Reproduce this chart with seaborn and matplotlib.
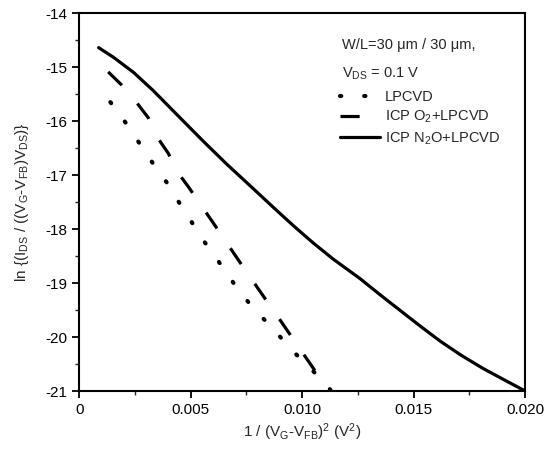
import numpy as np
import pandas as pd
import matplotlib
matplotlib.use('Agg')
import matplotlib.pyplot as plt
import seaborn as sns
from matplotlib.ticker import MultipleLocator, FuncFormatter

# data (x = 1/(VG-VFB)^2, y = ln(...))
lp_x = [0.0014, 0.0021, 0.0027, 0.0033, 0.0040, 0.0046, 0.0058, 0.0065, 0.0071,
        0.0078, 0.0087, 0.0094, 0.0102, 0.0110, 0.0113]
lp_y = [-15.65, -16.04, -16.41, -16.78, -17.18, -17.59, -18.35, -18.74, -19.11,
        -19.46, -19.85, -20.18, -20.52, -20.83, -21.0]

o2_x = [0.0013, 0.0019, 0.0026, 0.0031, 0.0035, 0.0040, 0.0044, 0.0049, 0.0060,
        0.0070, 0.0080, 0.0090, 0.0100, 0.0112]
o2_y = [-15.09, -15.33, -15.67, -15.94, -16.30, -16.60, -16.94, -17.22, -17.88,
        -18.49, -19.09, -19.68, -20.28, -21.0]

n2o_x = [0.00087, 0.00154, 0.00244, 0.00333, 0.00438, 0.00558, 0.00662, 0.00767,
         0.00871, 0.00961, 0.0105, 0.0114, 0.0126, 0.0135, 0.0144, 0.0153,
         0.0162, 0.0171, 0.0181, 0.0190, 0.0200]
n2o_y = [-14.64, -14.82, -15.10, -15.44, -15.88, -16.38, -16.80, -17.20,
         -17.60, -17.94, -18.26, -18.56, -18.92, -19.22, -19.51, -19.80,
         -20.08, -20.33, -20.58, -20.78, -21.0]

labels = ['LPCVD', 'ICP O$_2$+LPCVD', 'ICP N$_2$O+LPCVD']

sns.set_style('ticks')
plt.rcParams['font.family'] = ['Liberation Sans', 'DejaVu Sans']
plt.rcParams['mathtext.default'] = 'regular'
plt.rcParams['xtick.direction'] = 'out'
plt.rcParams['ytick.direction'] = 'out'

fig = plt.figure(figsize=(5.46, 4.5), dpi=100)
ax = fig.add_axes([0.145, 0.131, 0.817, 0.84])

lw = 2.3
sns.lineplot(x=lp_x, y=lp_y, ax=ax, color='black', lw=3.0,
             linestyle=(0, (0.3, 5.5)), dash_capstyle='round', label=labels[0])
sns.lineplot(x=o2_x, y=o2_y, ax=ax, color='black', lw=lw,
             linestyle=(0, (6.0, 7.5)), label=labels[1])
sns.lineplot(x=n2o_x, y=n2o_y, ax=ax, color='black', lw=lw,
             linestyle='-', label=labels[2])

ax.set_xlim(0, 0.020)
ax.set_ylim(-21, -14)
ax.xaxis.set_major_locator(MultipleLocator(0.005))
ax.xaxis.set_minor_locator(MultipleLocator(0.0025))
ax.yaxis.set_major_locator(MultipleLocator(1))
ax.yaxis.set_minor_locator(MultipleLocator(0.5))
ax.xaxis.set_major_formatter(FuncFormatter(lambda v, p: '0' if abs(v) < 1e-9 else f'{v:.3f}'))
ax.yaxis.set_major_formatter(FuncFormatter(lambda v, p: f'{v:.0f}'))
ax.tick_params(which='major', length=5, width=1.3, labelsize=11, colors='black')
ax.tick_params(which='minor', length=3, width=1.0)
for s in ax.spines.values():
    s.set_visible(True)
    s.set_linewidth(1.5)
    s.set_color('black')

ax.set_xlabel(r'1 / (V$_G$-V$_{FB}$)$^2$ (V$^2$)', fontsize=11, labelpad=3)
ax.set_ylabel(r'ln {(I$_{DS}$ / ((V$_G$-V$_{FB}$)V$_{DS}$)}', fontsize=11, labelpad=10)

ax.text(0.59, 0.915, u'W/L=30 \u03bcm / 30 \u03bcm,', transform=ax.transAxes,
        fontsize=10.5, va='center', ha='left')
ax.text(0.59, 0.838, r'V$_{DS}$ = 0.1 V', transform=ax.transAxes,
        fontsize=10.5, va='center', ha='left')
ax.legend(loc='upper left', bbox_to_anchor=(0.585, 0.796), frameon=False,
          fontsize=10.5, handlelength=2.7, handletextpad=0.35, labelspacing=0.33,
          borderaxespad=0, borderpad=0)

fig.savefig('out.png', dpi=100)
